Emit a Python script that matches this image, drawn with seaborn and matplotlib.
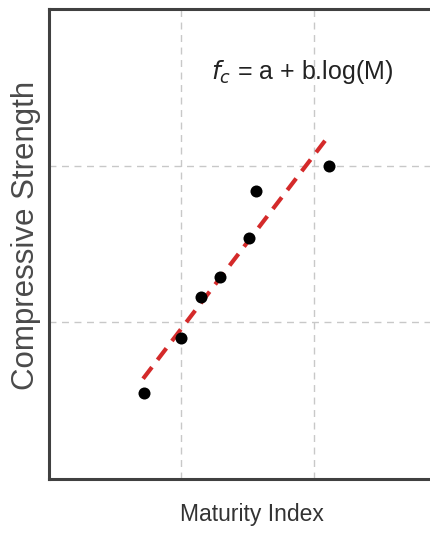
import matplotlib
matplotlib.use("Agg")
import matplotlib.pyplot as plt
import seaborn as sns
import pandas as pd
from matplotlib import font_manager

# Data (arbitrary units)
maturity = [0.72, 1.00, 1.15, 1.29, 1.51, 1.56, 2.11]
strength = [0.55, 0.90, 1.16, 1.29, 1.54, 1.84, 2.00]
fit_x = [0.71, 2.12]
fit_y = [0.64, 2.20]
grid_x = [1, 2]
grid_y = [1, 2]

sns.set_theme(style="white")
names = {f.name for f in font_manager.fontManager.ttflist}
fam = [n for n in ["Liberation Sans Narrow", "Liberation Sans", "DejaVu Sans"] if n in names]
plt.rcParams["font.family"] = fam

fig = plt.figure(figsize=(4.31, 5.35), dpi=100)
ax = fig.add_axes([49 / 431, 56 / 535, 397.5 / 431, 470 / 535])

pts = pd.DataFrame({"M": maturity, "fc": strength})
fit = pd.DataFrame({"M": fit_x, "fc": fit_y})

for gx in grid_x:
    ax.axvline(gx, color="#c8c8c8", lw=1.0, ls=(0, (5, 4)), zorder=0)
for gy in grid_y:
    ax.axhline(gy, color="#c8c8c8", lw=1.0, ls=(0, (5, 4)), zorder=0)

sns.lineplot(data=fit, x="M", y="fc", ax=ax, color="#d42a2a", lw=3,
             linestyle=(0, (3.5, 2.2)), zorder=2)
sns.scatterplot(data=pts, x="M", y="fc", ax=ax, color="black", s=75,
                edgecolor="black", linewidth=0, zorder=3)

ax.set_xlim(0, 3)
ax.set_ylim(0, 3)
ax.set_xticks([])
ax.set_yticks([])

for s in ax.spines.values():
    s.set_color("#404040")
    s.set_linewidth(2.2)
    s.set_visible(True)

ax.set_xlabel("Maturity Index", fontsize=16.5, color="#333333")
ax.xaxis.set_label_coords((252 - 49) / 397.5, -(514 - 479) / 470, transform=ax.transAxes)
ax.xaxis.label.set_va("center")
ax.set_ylabel("Compressive Strength", fontsize=22.5, color="#4a4a4a")
ax.yaxis.set_label_coords(-(49 - 26) / 397.5, (479 - 235) / 470, transform=ax.transAxes)
ax.yaxis.label.set_va("center")

ax.text((302 - 49) / 397.5, (479 - 72) / 470, r"$\mathit{f}_{\mathit{c}}$" + " = a + b.log(M)",
        transform=ax.transAxes, ha="center", va="center", fontsize=18, color="#222222")

fig.savefig("out.png", dpi=100)
